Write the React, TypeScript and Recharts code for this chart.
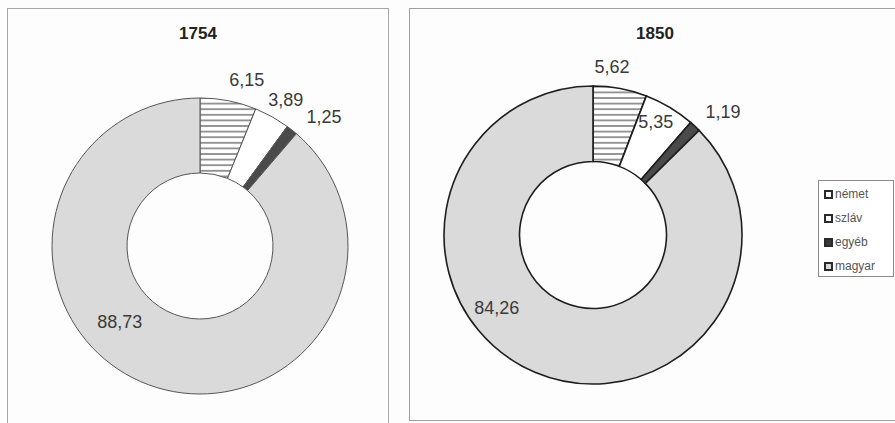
import React from 'react';
import { PieChart, Pie, Cell, Legend } from 'recharts';

// ---- data ----
const categories = ['német', 'szláv', 'egyéb', 'magyar'];
const values1754 = [6.15, 3.89, 1.25, 88.73];
const values1850 = [5.62, 5.35, 1.19, 84.26];
const years = ['1754', '1850'];

const toRows = (vals: number[]) => categories.map((name, i) => ({ name, value: vals[i] }));

// ---- styles ----
const FONT = '"Liberation Sans", Arial, Helvetica, sans-serif';
const fills = ['url(#hatchNemet)', '#ffffff', '#4a4a4a', '#dadada'];
const swatchFills = ['#ffffff', '#ffffff', '#3a3a3a', '#d9d9d9'];

type Placement = { dr: number; da: number; ring?: boolean };

// label placement relative to each slice's mid angle and ring radii
const placement1754: Placement[] = [
  { dr: 24.5, da: -4.7 },
  { dr: 21, da: -1.4 },
  { dr: 31, da: -5.5 },
  { dr: 0, da: -26.2, ring: true },
];
const placement1850: Placement[] = [
  { dr: 20, da: 4 },
  { dr: -20, da: 1.9 },
  { dr: 30, da: -3.4 },
  { dr: 9.5, da: -30.1, ring: true },
];

const RAD = Math.PI / 180;
const fmt = (v: number) => v.toFixed(2).replace('.', ',');

const makeLabel = (places: Placement[]) => (props: any) => {
  const { cx, cy, midAngle, innerRadius, outerRadius, index, value } = props;
  const p = places[index];
  const r = p.ring ? (innerRadius + outerRadius) / 2 + p.dr : outerRadius + p.dr;
  const a = (midAngle + p.da) * RAD;
  const x = cx + r * Math.cos(a);
  const y = cy - r * Math.sin(a);
  return (
    <text
      x={x}
      y={y}
      textAnchor="middle"
      dominantBaseline="central"
      fill="#3a3a3a"
      fontFamily={FONT}
      fontSize={18}
    >
      {fmt(value)}
    </text>
  );
};

const LegendBox = () => (
  <div
    style={{
      width: 76,
      height: 97,
      boxSizing: 'border-box',
      border: '1px solid #8a8a8a',
      background: '#fff',
      paddingTop: 1,
      paddingLeft: 5,
      fontFamily: FONT,
    }}
  >
    {categories.map((c, i) => (
      <div key={c} style={{ display: 'flex', alignItems: 'center', height: 24 }}>
        <span
          style={{
            display: 'inline-block',
            width: 9,
            height: 9,
            boxSizing: 'border-box',
            border: '2px solid #2a2a2a',
            background: swatchFills[i],
            marginRight: 2,
          }}
        />
        <span style={{ fontSize: 12, color: '#555' }}>{c}</span>
      </div>
    ))}
  </div>
);

type DonutProps = {
  left: number;
  width: number;
  rows: { name: string; value: number }[];
  cx: number;
  cy: number;
  inner: number;
  outer: number;
  stroke: string;
  strokeWidth: number;
  places: Placement[];
  legend?: boolean;
};

const Donut = (p: DonutProps) => (
  <div style={{ position: 'absolute', left: p.left, top: 0 }}>
    <PieChart width={p.width} height={423} margin={{ top: 0, right: 0, bottom: 0, left: 0 }}>
      <Pie
        data={p.rows}
        dataKey="value"
        nameKey="name"
        cx={p.cx}
        cy={p.cy}
        innerRadius={p.inner}
        outerRadius={p.outer}
        startAngle={90}
        endAngle={-270}
        isAnimationActive={false}
        labelLine={false}
        label={makeLabel(p.places)}
      >
        {p.rows.map((r, i) => (
          <Cell key={r.name} fill={fills[i]} stroke={p.stroke} strokeWidth={p.strokeWidth} />
        ))}
      </Pie>
      {p.legend && (
        <Legend
          layout="vertical"
          align="right"
          verticalAlign="middle"
          content={() => <LegendBox />}
          wrapperStyle={{ left: 418, top: 180, width: 76, height: 97, right: 'auto', bottom: 'auto' }}
        />
      )}
    </PieChart>
  </div>
);

export default function App() {
  return (
    <div
      style={{
        position: 'absolute',
        left: 0,
        top: 0,
        width: 895,
        height: 423,
        overflow: 'hidden',
        background: '#fdfdfd',
        fontFamily: FONT,
      }}
    >
      <svg width={0} height={0} style={{ position: 'absolute' }}>
        <defs>
          <pattern id="hatchNemet" patternUnits="userSpaceOnUse" width={8} height={5.6}>
            <rect x={0} y={0} width={8} height={5.6} fill="#ffffff" />
            <line x1={0} y1={2.8} x2={8} y2={2.8} stroke="#333" strokeWidth={1} />
          </pattern>
        </defs>
      </svg>

      {/* panels */}
      <div
        style={{
          position: 'absolute',
          left: 7,
          top: 8,
          width: 382,
          height: 430,
          boxSizing: 'border-box',
          border: '1.5px solid #a8a8a8',
        }}
      />
      <div
        style={{
          position: 'absolute',
          left: 409,
          top: 8,
          width: 500,
          height: 413,
          boxSizing: 'border-box',
          border: '1.5px solid #a0a0a0',
        }}
      />

      <Donut
        left={0}
        width={400}
        rows={toRows(values1754)}
        cx={200}
        cy={246}
        inner={73}
        outer={148}
        stroke="#555"
        strokeWidth={1}
        places={placement1754}
      />
      <Donut
        left={400}
        width={495}
        rows={toRows(values1850)}
        cx={193}
        cy={235}
        inner={73.5}
        outer={149}
        stroke="#1e1e1e"
        strokeWidth={1.6}
        places={placement1850}
        legend
      />

      {/* titles */}
      <div
        style={{
          position: 'absolute',
          left: 148,
          width: 100,
          top: 24,
          textAlign: 'center',
          fontWeight: 'bold',
          fontSize: 17,
          color: '#222',
        }}
      >
        {years[0]}
      </div>
      <div
        style={{
          position: 'absolute',
          left: 605,
          width: 100,
          top: 24,
          textAlign: 'center',
          fontWeight: 'bold',
          fontSize: 17,
          color: '#222',
        }}
      >
        {years[1]}
      </div>
    </div>
  );
}
